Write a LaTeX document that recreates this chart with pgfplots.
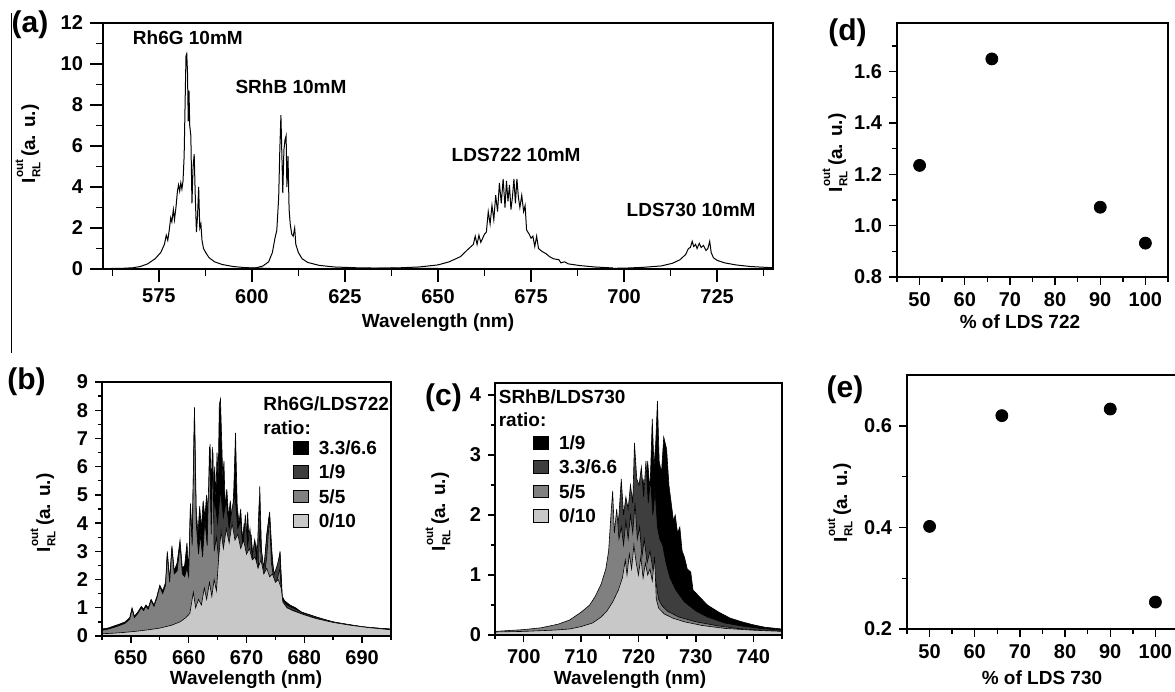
\documentclass[border=0pt]{standalone}
\usepackage{fontspec}
\setmainfont{Liberation Sans}
\usepackage{pgfplots}
\pgfplotsset{compat=1.18}

\newcommand{\IRL}{I\kern0.4pt\rlap{\raisebox{0.62em}{\fontsize{5.8}{6}\selectfont out}}\raisebox{-0.28em}{\fontsize{5.8}{6}\selectfont RL}\kern2.5pt(a. u.)}
\newcommand{\lab}{\fontsize{9.5}{10}\selectfont\bfseries}
\newcommand{\plab}{\fontsize{15}{16}\selectfont\bfseries}

\definecolor{dgray}{RGB}{62,62,62}
\definecolor{mgray}{RGB}{128,128,128}
\definecolor{lgray}{RGB}{200,200,200}

\pgfplotsset{
  panel/.style={scale only axis, axis line style={line width=0.7pt}, tick align=outside,
    xtick pos=left, ytick pos=left, tick style={black, line width=0.7pt},
    every tick label/.append style={font=\fontsize{10}{11}\selectfont\bfseries},
    /pgf/number format/assume math mode=true, no markers, axis on top},
  spec/.style={legend image code/.code={\draw[##1, line width=0.4pt] (0pt,-3.2pt) rectangle (7.5pt,3.2pt);},
    legend style={draw=none, fill=none, font=\fontsize{9.5}{10}\selectfont\bfseries, row sep=3.4pt,
      column sep=4pt, inner sep=0pt, cells={anchor=west}, nodes={inner sep=1pt, text height=6.8pt, text depth=0pt}}},
}

\begin{document}
\begin{tikzpicture}
\useasboundingbox (0,0) rectangle (587.5pt,346pt);
\draw[line width=0.5pt] (5.75pt,339.5pt) -- (5.75pt,169.5pt);

% ---------------- (a)
\begin{axis}[panel, at={(51.5pt,211.5pt)}, anchor=south west, width=335pt, height=123pt,
  xmin=560, xmax=740, ymin=0, ymax=12,
  xtick={575,600,...,725}, minor xtick={562.5,587.5,...,737.5},
  ytick={0,2,...,12}, minor ytick={1,3,...,11},
  major tick length=6.5pt, minor tick length=3.5pt]
\addplot[black, line width=0.5pt] table {
560 0.02
565 0.03
568 0.06
570 0.12
572 0.25
574 0.5
575.5 0.8
576.5 1.2
577 1.65
577.4 1.4
577.8 1.9
578.2 2.5
578.5 2.3
578.9 2.9
579.2 2.4
579.6 3.0
580 3.8
580.3 4.1
580.6 3.8
580.9 4.2
581.2 3.9
581.5 4.3
581.8 5.5
582.1 8.5
582.3 10.4
582.5 10.5
582.7 9.6
582.9 7.2
583.1 8.7
583.3 7.0
583.6 6.5
583.9 3.2
584.2 5.0
584.5 5.6
584.8 3.5
585.1 1.8
585.4 2.6
585.7 4.0
586 2.0
586.3 2.2
586.6 1.4
587 1.0
587.6 0.8
588.5 0.55
590 0.35
592 0.22
595 0.12
598 0.07
602 0.04
605 0.03
};
\addplot[black, line width=0.5pt] table {
598 0.02
601 0.05
603 0.15
604.5 0.35
605.5 0.8
606.2 1.5
606.7 1.9
607.2 3.5
607.5 5.8
607.8 7.5
608.0 6.0
608.3 3.7
608.6 5.8
608.9 6.3
609.2 6.5
609.4 4.0
609.7 5.5
610 2.9
610.3 2.2
610.7 1.7
611.1 1.6
611.5 2.0
611.8 1.2
612.5 0.8
613.5 0.5
615 0.32
618 0.18
622 0.1
628 0.06
635 0.04
645 0.03
650 0.03
};
\addplot[black, line width=0.5pt] table {
630 0.02
640 0.06
645 0.1
650 0.2
653 0.35
656 0.6
658 0.95
659.5 1.2
660 1.6
660.5 1.2
661 1.65
661.5 1.3
662 1.5
662.5 1.7
663 1.8
663.5 2.8
664 2.2
664.5 3.1
665 2.4
665.5 3.6
666 2.8
666.5 4.2
667 3.2
667.5 4.4
668 3.0
668.4 4.3
668.8 3.3
669.2 4.1
669.6 2.9
670 3.5
670.4 4.4
670.8 3.2
671.2 4.4
671.6 3.5
672 3.0
672.5 3.6
673 2.8
673.4 3.1
673.8 1.9
674.5 1.7
675 1.5
675.5 1.6
676 1.1
676.5 1.6
677 1.0
678 0.85
679 0.75
680 0.6
681 0.5
682.5 0.45
683 0.3
684 0.35
685 0.25
688 0.17
692 0.1
697 0.05
};
\addplot[black, line width=0.5pt] table {
690 0.02
700 0.04
705 0.08
710 0.15
713 0.28
715 0.45
716.5 0.7
717.3 1.0
717.8 1.05
718.3 1.35
718.7 1.1
719.2 1.2
719.6 1.0
720.2 1.25
720.7 1.05
721.3 1.15
722 0.9
722.5 1.0
723 1.35
723.4 0.8
724 0.55
725 0.42
727 0.3
730 0.2
734 0.12
740 0.06
};
\node[font=\lab] at (axis cs:582.8,11.3) {Rh6G 10mM};
\node[font=\lab] at (axis cs:610.5,8.9) {SRhB 10mM};
\node[font=\lab] at (axis cs:671,5.56) {LDS722 10mM};
\node[font=\lab] at (axis cs:718,2.9) {LDS730 10mM};
\end{axis}

% ---------------- (d)
\begin{axis}[panel, at={(448.5pt,207.5pt)}, anchor=south west, width=135.5pt, height=127pt,
  xmin=45, xmax=105, ymin=0.8, ymax=1.79,
  xtick={50,60,...,100}, minor xtick={45,55,...,105},
  ytick={0.8,1.0,1.2,1.4,1.6}, minor ytick={0.9,1.1,1.3,1.5,1.7},
  yticklabel style={/pgf/number format/.cd, fixed, fixed zerofill, precision=1},
  major tick length=4pt, minor tick length=2.5pt]
\addplot[only marks, mark=*, mark size=3pt, black] coordinates {(50,1.235) (66,1.65) (90,1.072) (100,0.932)};
\end{axis}

% ---------------- (b)
\begin{axis}[panel, spec, at={(51pt,28pt)}, anchor=south west, width=144.5pt, height=127pt,
  xmin=645, xmax=695, ymin=0, ymax=9,
  xtick={650,660,...,690}, minor xtick={645,655,...,695},
  ytick={0,1,...,9}, minor ytick={0.5,1.5,...,8.5},
  major tick length=3.5pt, minor tick length=2pt,
  legend style={at={(0.66,0.778)}, anchor=north west}]
\addplot[fill=black, draw=black, line width=0.3pt] table {
645 0.25
646 0.28
647 0.35
648 0.42
649 0.5
649.8 0.65
650.2 1.0
650.6 0.7
651.2 0.85
651.8 1.05
652.2 0.95
652.6 1.1
653 1.0
653.5 1.3
654 1.1
654.5 1.4
655 1.8
655.5 1.6
656 1.9
656.3 3.0
656.7 2.0
657.1 3.2
657.5 2.3
658 2.6
658.5 3.4
658.9 2.4
659.3 2.5
659.7 3.3
660 2.3
660.3 4.7
660.6 3.4
661 8.1
661.3 4.5
661.6 3.6
661.9 4.6
662.2 3.8
662.5 4.8
662.8 4.2
663.1 5.0
663.4 4.4
663.7 6.8
663.9 5.2
664.1 6.7
664.3 5.0
664.5 6.0
664.7 4.8
664.9 6.5
665.1 5.6
665.3 8.2
665.5 8.4
665.7 7.0
665.9 5.6
666.1 6.2
666.3 4.6
666.6 5.2
666.9 4.2
667.2 4.8
667.5 4.0
667.8 5.2
668.1 7.2
668.4 4.6
668.7 4.0
669 4.5
669.3 3.4
669.6 4.0
669.9 3.2
670.2 4.4
670.5 3.0
670.8 3.6
671.2 2.6
671.6 3.3
672 2.7
672.3 5.3
672.6 3.0
673 2.2
673.5 3.6
674 4.4
674.4 3.0
674.8 2.0
675.3 2.3
675.8 3.0
676.2 1.4
676.6 1.25
677.5 1.1
678.5 1.0
679.5 0.85
681 0.75
683 0.6
685 0.5
687 0.42
689 0.36
691 0.3
693 0.27
695 0.25
} \closedcycle;
\addlegendentry{3.3/6.6}
\addplot[fill=dgray, draw=black, line width=0.3pt] table {
645 0.2
650 0.3
655 0.5
658 0.8
660 1.2
661 2.0
662 2.5
663 3.0
663.5 4.2
664 3.6
664.5 4.8
665 4.0
665.5 5.2
666 4.2
666.5 4.8
667 3.8
667.5 4.5
668 5.0
668.5 3.8
669 4.1
669.4 3.0
669.8 4.3
670.2 3.2
670.6 3.8
671 2.8
671.4 3.4
671.8 2.6
672.2 4.8
672.5 3.2
673 2.4
673.4 3.3
673.9 4.2
674.3 2.8
674.8 2.2
675.3 2.5
675.8 2.9
676.1 1.3
677 1.1
680 0.8
685 0.5
690 0.33
695 0.24
} \closedcycle;
\addlegendentry{1/9}
\addplot[fill=mgray, draw=black, line width=0.3pt] table {
645 0.2
646 0.24
647 0.3
648 0.37
649 0.45
649.8 0.6
650.2 0.95
650.6 0.65
651.2 0.8
651.8 1.0
652.2 0.9
652.6 1.05
653 0.95
653.5 1.25
654 1.05
654.5 1.35
655 1.75
655.5 1.5
656 1.8
656.3 2.9
656.7 1.9
657.1 3.1
657.5 2.2
658 2.3
658.5 3.2
658.9 2.2
659.3 2.1
659.7 2.4
660 2.1
660.3 4.6
660.6 3.2
661 8.0
661.3 4.0
661.7 2.9
662 3.6
662.4 2.8
662.8 4.1
663.2 3.2
663.6 6.7
663.9 3.6
664.2 6.5
664.4 3.0
664.8 3.5
665.2 2.7
665.6 3.2
666 2.5
666.5 3.0
667 2.4
667.5 2.8
668 2.3
668.5 2.8
669 2.2
669.5 2.6
670 2.1
670.5 3.0
671 2.3
671.5 2.5
672 2.1
672.3 3.8
672.6 2.3
673 2.0
673.5 2.8
674 4.3
674.3 2.6
674.8 1.9
675.3 2.0
675.8 2.4
676.1 1.2
677 1.0
680 0.75
685 0.48
690 0.32
695 0.22
} \closedcycle;
\addlegendentry{5/5}
\addplot[fill=lgray, draw=black, line width=0.3pt] table {
645 0.08
647 0.1
649 0.13
651 0.17
653 0.22
655 0.28
657 0.38
658.5 0.5
659.5 0.65
660.2 0.8
660.8 1.55
661.2 1.0
661.7 1.3
662.2 1.1
662.7 1.7
663.1 1.3
663.6 1.9
664 1.4
664.4 2.0
664.8 1.6
665.2 2.8
665.6 3.7
666 3.1
666.5 3.8
667 3.3
667.5 4.0
668 3.4
668.5 3.6
669 3.1
669.5 3.4
670 2.9
670.5 3.1
671 2.7
671.5 2.8
672 2.4
672.5 2.7
673 2.2
673.5 2.4
674 2.1
674.5 2.2
675 1.9
675.5 2.0
676 1.7
676.3 1.2
677 1.0
678 0.9
680 0.75
682 0.62
685 0.48
688 0.38
691 0.3
695 0.22
} \closedcycle;
\addlegendentry{0/10}
\node[font=\lab, anchor=west, inner sep=0pt] at (rel axis cs:0.557,0.913) {Rh6G/LDS722};
\node[font=\lab, anchor=west, inner sep=0pt] at (rel axis cs:0.557,0.819) {ratio:};
\end{axis}

% ---------------- (c)
\begin{axis}[panel, spec, at={(247.5pt,28.5pt)}, anchor=south west, width=143.5pt, height=126pt,
  xmin=695, xmax=745, ymin=0, ymax=4.2,
  xtick={700,710,...,740}, minor xtick={695,705,...,745},
  ytick={0,1,...,4}, minor ytick={0.5,1.5,...,3.5},
  major tick length=3.5pt, minor tick length=2pt,
  legend style={at={(0.132,0.8)}, anchor=north west}]
\addplot[fill=black, draw=black, line width=0.3pt] table {
695 0.05
700 0.07
705 0.12
708 0.18
711 0.28
713 0.4
715 0.6
716.5 0.85
717.5 1.1
718.5 1.4
719.5 1.7
720.3 2.0
720.8 2.6
721.2 2.2
721.6 2.9
722 2.4
722.4 3.6
722.7 2.8
723 3.2
723.3 3.9
723.6 2.9
724 2.7
724.4 3.3
724.9 3.1
725.3 2.5
725.7 2.2
726.1 1.9
726.4 2.0
726.8 1.7
727.2 1.8
727.6 1.4
728 1.3
728.5 1.1
729.1 1.05
729.5 0.75
730.5 0.65
732 0.5
734 0.38
736 0.28
738 0.22
740 0.17
742 0.13
745 0.1
} \closedcycle;
\addlegendentry{1/9}
\addplot[fill=dgray, draw=black, line width=0.3pt] table {
695 0.05
700 0.07
705 0.12
708 0.2
711 0.35
713 0.55
714.5 0.8
715.5 1.2
716.2 1.7
716.6 2.0
717 2.6
717.4 2.0
717.8 2.3
718.2 2.1
718.6 2.5
719 2.2
719.3 3.2
719.7 2.6
720.1 2.5
720.5 2.8
720.9 2.3
721.3 2.9
721.7 2.2
722.1 2.6
722.5 2.0
722.9 2.4
723.3 1.8
723.7 1.6
724.2 1.5
724.8 1.2
725.5 0.95
726.5 0.75
728 0.55
730 0.4
732 0.3
735 0.2
738 0.15
741 0.11
745 0.08
} \closedcycle;
\addlegendentry{3.3/6.6}
\addplot[fill=mgray, draw=black, line width=0.3pt] table {
695 0.06
700 0.09
703 0.12
706 0.18
708 0.25
710 0.38
711.5 0.5
712.5 0.65
713.5 0.85
714.3 1.1
714.8 1.4
715.2 2.0
715.5 2.4
715.8 1.7
716.2 2.1
716.6 1.6
717 1.8
717.4 1.5
717.8 1.9
718.2 1.6
718.6 2.0
719 1.7
719.4 2.2
719.8 1.6
720.2 1.8
720.6 1.3
721 1.6
721.5 1.2
722 1.4
722.5 1.1
723 0.9
723.5 0.6
724 0.5
725 0.4
727 0.3
730 0.22
734 0.15
738 0.1
745 0.06
} \closedcycle;
\addlegendentry{5/5}
\addplot[fill=lgray, draw=black, line width=0.3pt] table {
695 0.05
700 0.06
705 0.08
708 0.1
710 0.14
712 0.2
713.5 0.3
714.5 0.4
715.5 0.55
716.5 0.75
717.2 0.95
717.7 1.25
718 1.0
718.4 1.35
718.8 1.1
719.2 1.5
719.6 1.2
720 1.0
720.4 1.3
720.8 0.95
721.2 1.2
721.6 1.0
722 1.1
722.4 0.9
722.8 1.3
723.1 0.6
723.5 0.45
724.5 0.35
726 0.28
728 0.22
731 0.16
735 0.11
740 0.08
745 0.06
} \closedcycle;
\addlegendentry{0/10}
\node[font=\lab, anchor=west, inner sep=0pt] at (rel axis cs:0.012,0.944) {SRhB/LDS730};
\node[font=\lab, anchor=west, inner sep=0pt] at (rel axis cs:0.012,0.853) {ratio:};
\end{axis}

% ---------------- (e)
\begin{axis}[panel, at={(453.5pt,31.5pt)}, anchor=south west, width=135.5pt, height=127pt,
  xmin=45, xmax=105, ymin=0.2, ymax=0.7,
  xtick={50,60,...,100}, minor xtick={45,55,...,105},
  ytick={0.2,0.4,0.6}, minor ytick={0.3,0.5},
  yticklabel style={/pgf/number format/.cd, fixed, fixed zerofill, precision=1},
  major tick length=4pt, minor tick length=2.5pt]
\addplot[only marks, mark=*, mark size=3pt, black] coordinates {(50,0.402) (66,0.62) (90,0.633) (100,0.253)};
\end{axis}

% labels
\node[font=\plab] at (15pt,333.5pt) {(a)};
\node[font=\plab] at (423.75pt,329.75pt) {(d)};
\node[font=\plab] at (13.25pt,155.25pt) {(b)};
\node[font=\plab] at (221.75pt,147.25pt) {(c)};
\node[font=\plab] at (422.5pt,151.25pt) {(e)};

\node[font=\lab] at (219pt,184.5pt) {Wavelength (nm)};
\node[font=\lab, rotate=90] at (14pt,274pt) {\IRL};
\node[font=\lab] at (510pt,185pt) {\% of LDS 722};
\node[font=\lab, rotate=90] at (417.5pt,269.5pt) {\IRL};
\node[font=\lab] at (123pt,6pt) {Wavelength (nm)};
\node[font=\lab, rotate=90] at (21.5pt,89.5pt) {\IRL};
\node[font=\lab] at (315pt,6pt) {Wavelength (nm)};
\node[font=\lab, rotate=90] at (219pt,90pt) {\IRL};
\node[font=\lab] at (521pt,7pt) {\% of LDS 730};
\node[font=\lab, rotate=90] at (420pt,94.5pt) {\IRL};
\end{tikzpicture}
\end{document}
